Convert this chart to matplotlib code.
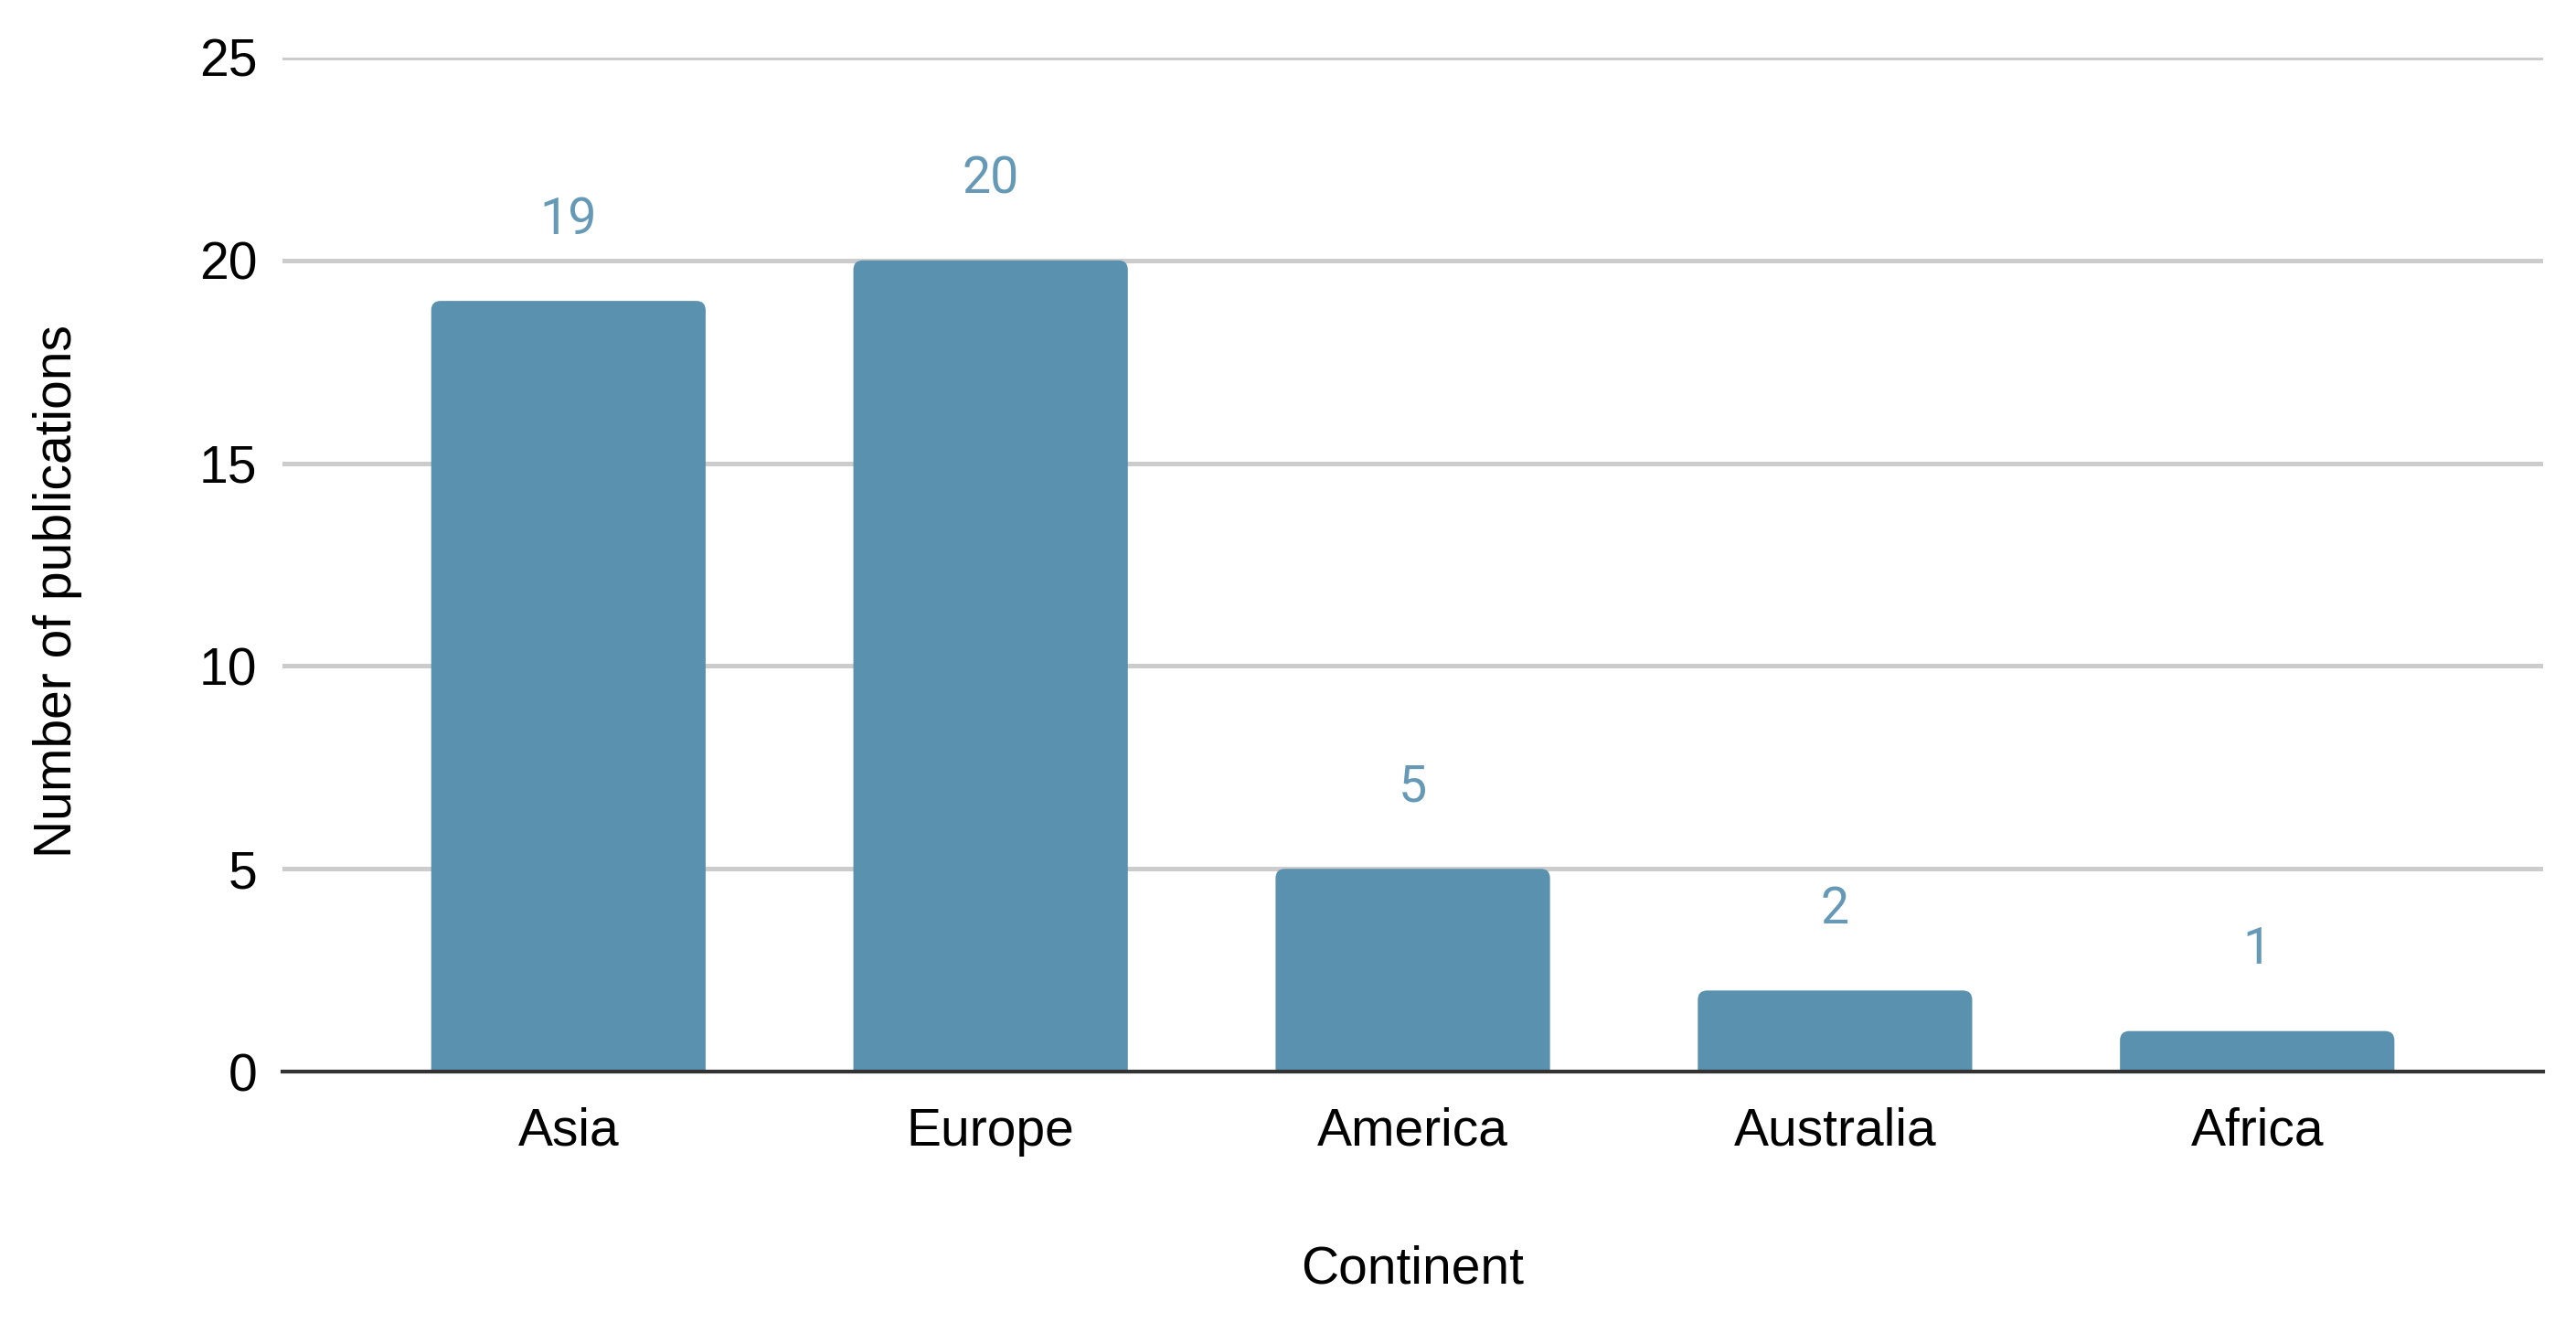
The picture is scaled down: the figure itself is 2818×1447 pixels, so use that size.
import matplotlib.pyplot as plt
import matplotlib.transforms as mtransforms
from matplotlib.patches import FancyBboxPatch

continents = ["Asia", "Europe", "America", "Australia", "Africa"]
publications = [19, 20, 5, 2, 1]
y_ticks = [0, 5, 10, 15, 20, 25]

bar_color = "#5A91AE"
label_color = "#6599B5"

fig = plt.figure(figsize=(14.09, 7.235), dpi=200)
ax = fig.add_axes([0.1097, 0.190, 0.8775, 0.7665])

ax.set_xlim(-0.677, 4.677)
ax.set_ylim(0, 25)

x = list(range(len(continents)))
bars = ax.bar(x, publications, width=0.65, color=bar_color, zorder=3)

# data units per pixel ratio so the corner radius stays round
aspect = (25 / 1109) / (5.354 / 2473)
offset = mtransforms.ScaledTranslation(0, 32 / 72, fig.dpi_scale_trans)

# bars with slightly rounded top corners, base hidden below the axis line
for b in bars:
    b.set_visible(False)
    px, w, h = b.get_x(), b.get_width(), b.get_height()
    patch = FancyBboxPatch((px, -0.5), w, h + 0.5,
                           boxstyle="round,pad=0,rounding_size=0.022",
                           mutation_aspect=aspect,
                           facecolor=bar_color, edgecolor="none", zorder=3)
    ax.add_patch(patch)
    ax.text(px + w / 2, h, str(int(h)), ha="center", va="center",
            fontsize=20, color=label_color, family="Roboto",
            transform=ax.transData + offset)

ax.set_yticks(y_ticks)
ax.set_xticks(x)
ax.set_xticklabels(continents)

ax.yaxis.grid(True, color="#CCCCCC", linewidth=1.8, zorder=0)
ax.set_axisbelow(True)
for s in ["top", "right", "left"]:
    ax.spines[s].set_visible(False)
ax.spines["bottom"].set_color("#333333")
ax.spines["bottom"].set_linewidth(1.5)
ax.spines["bottom"].set_zorder(4)

ax.tick_params(axis="both", length=0, labelsize=20.5, colors="black")
ax.tick_params(axis="y", pad=10)
ax.tick_params(axis="x", pad=14)
for t in ax.get_xticklabels() + ax.get_yticklabels():
    t.set_family("Liberation Sans")

fig.text(0.5483, 1 - 1388 / 1447, "Continent", ha="center", va="center",
         fontsize=20.5, family="Liberation Sans")
fig.text(63 / 2818, 1 - 647 / 1447, "Number of publications", ha="center", va="center",
         rotation=90, fontsize=20.5, family="Liberation Sans")

fig.savefig("out.png", dpi=200)
